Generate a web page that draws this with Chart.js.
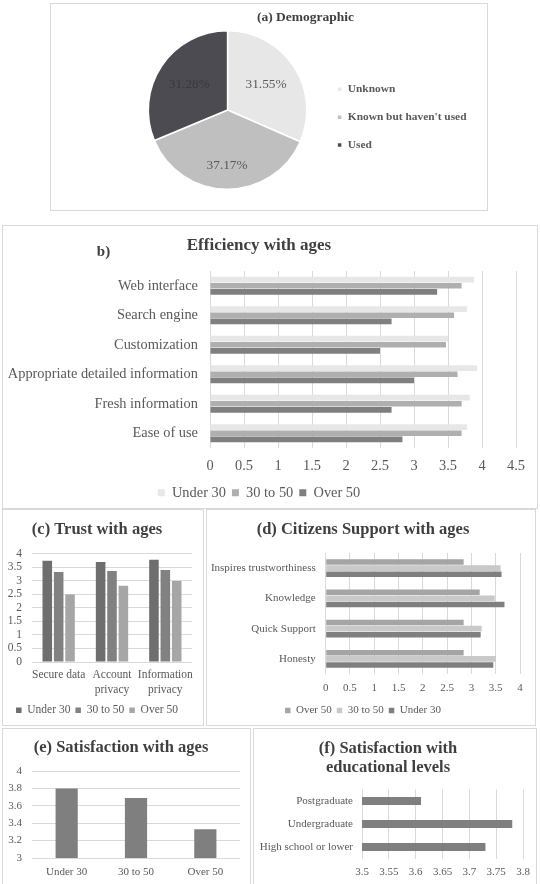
<!DOCTYPE html>
<html>
<head>
<meta charset="utf-8">
<script src="https://cdn.jsdelivr.net/npm/chart.js@4.4.0/dist/chart.umd.min.js"></script>
<style>
  html, body { margin: 0; padding: 0; background: #fff; }
  body { position: relative; width: 540px; height: 884px; overflow: hidden; }
  .panel { position: absolute; box-sizing: border-box; border: 1px solid #d9d9d9; }
  .cv { position: absolute; left: -1px; top: -1px; }
</style>
</head>
<body>
<div class="panel" style="left:50px;top:3px;width:438px;height:208px">
  <div class="cv" style="width:438px;height:208px"><canvas id="demoChart"></canvas></div>
</div>
<div class="panel" style="left:2px;top:225px;width:536px;height:284px">
  <div class="cv" style="width:536px;height:285px"><canvas id="effChart"></canvas></div>
</div>
<div class="panel" style="left:2px;top:509px;width:202px;height:217px">
  <div class="cv" style="width:202px;height:217px"><canvas id="trustChart"></canvas></div>
</div>
<div class="panel" style="left:206px;top:509px;width:330px;height:217px">
  <div class="cv" style="width:330px;height:217px"><canvas id="supportChart"></canvas></div>
</div>
<div class="panel" style="left:2px;top:728px;width:249px;height:160px">
  <div class="cv" style="width:249px;height:156px"><canvas id="satAgeChart"></canvas></div>
</div>
<div class="panel" style="left:253px;top:728px;width:284px;height:160px">
  <div class="cv" style="width:284px;height:156px"><canvas id="eduChart"></canvas></div>
</div>

<script>
// (a) demographic pie
const demoLabels = ["Unknown", "Known but haven't used", "Used"];
const demoValues = [31.55, 37.17, 31.28];

// (b) efficiency with ages
const effCategories = ["Web interface", "Search engine", "Customization", "Appropriate detailed information", "Fresh information", "Ease of use"];
const effUnder30 = [3.88, 3.78, 3.50, 3.93, 3.82, 3.78];
const eff30to50 = [3.70, 3.59, 3.47, 3.64, 3.70, 3.70];
const effOver50 = [3.34, 2.67, 2.50, 3.00, 2.67, 2.83];

// (c) trust with ages
const trustCategories = ["Secure data", ["Account", "privacy"], ["Information", "privacy"]];
const trustUnder30 = [3.74, 3.69, 3.78];
const trust30to50 = [3.32, 3.36, 3.40];
const trustOver50 = [2.49, 2.82, 2.99];

// (d) citizens support with ages
const supportCategories = ["Inspires trustworthiness", "Knowledge", "Quick Support", "Honesty"];
const supportOver50 = [2.84, 3.17, 2.84, 2.84];
const support30to50 = [3.60, 3.48, 3.21, 3.50];
const supportUnder30 = [3.62, 3.68, 3.19, 3.45];

// (e) satisfaction with ages
const satAgeLabels = ["Under 30", "30 to 50", "Over 50"];
const satAgeValues = [3.80, 3.69, 3.33];

// (f) satisfaction with educational levels
const eduLabels = ["Postgraduate", "Undergraduate", "High school or lower"];
const eduValues = [3.61, 3.78, 3.73];

// axis ranges
const effRange = [0, 4.5, 0.5];
const trustRange = [0, 4, 0.5];
const supportRange = [0, 4, 0.5];
const satAgeRange = [3, 4, 0.2];
const eduRange = [3.5, 3.8, 0.05];

Chart.defaults.font.family = '"Liberation Serif", "Times New Roman", serif';
Chart.defaults.color = "#595959";
Chart.defaults.animation = false;
Chart.defaults.plugins.tooltip.enabled = false;

const GRID = "#d9d9d9";
const TITLE = "#3f3f3f";
const fmt = (v) => String(Number(Number(v).toFixed(2)));

// percentage labels inside the pie slices
const sliceLabels = {
  id: "sliceLabels",
  afterDatasetsDraw(chart) {
    const ctx = chart.ctx;
    const colors = ["#595959", "#595959", "#38383d"];
    const reach = [0.58, 0.7, 0.58];
    ctx.save();
    ctx.font = '13.3px "Liberation Serif"';
    ctx.textAlign = "center";
    ctx.textBaseline = "middle";
    chart.getDatasetMeta(0).data.forEach((arc, i) => {
      const p = arc.getProps(["x", "y", "startAngle", "endAngle", "outerRadius"], true);
      const mid = (p.startAngle + p.endAngle) / 2;
      const r = p.outerRadius * reach[i];
      ctx.fillStyle = colors[i];
      ctx.fillText(demoValues[i].toFixed(2) + "%", p.x + Math.cos(mid) * r, p.y + Math.sin(mid) * r);
    });
    ctx.restore();
  },
};

// small "b)" tag next to the title
const panelTag = {
  id: "panelTag",
  afterDraw(chart, args, opts) {
    const ctx = chart.ctx;
    ctx.save();
    ctx.font = 'bold 15px "Liberation Serif"';
    ctx.fillStyle = TITLE;
    ctx.textAlign = "center";
    ctx.textBaseline = "middle";
    ctx.fillText(opts.text, opts.x, opts.y);
    ctx.restore();
  },
};

document.addEventListener("DOMContentLoaded", () => {
  new Chart(document.getElementById("demoChart"), {
    type: "pie",
    data: {
      labels: demoLabels,
      datasets: [
        {
          data: demoValues,
          backgroundColor: ["#e7e7e7", "#bfbfbf", "#4b4b51"],
          borderColor: "#ffffff",
          borderWidth: 1.5,
        },
      ],
    },
    options: {
      responsive: true,
      maintainAspectRatio: false,
      layout: { padding: { left: 84.5, right: 11.5, top: 0, bottom: 21 } },
      plugins: {
        title: {
          display: true,
          text: "(a) Demographic",
          color: TITLE,
          font: { size: 13.5, weight: "bold" },
          padding: { top: 6.9, bottom: 3.9 },
        },
        legend: {
          position: "right",
          fullSize: false,
          title: { display: true, text: "", padding: 0, font: { size: 12 } },
          labels: {
            boxWidth: 5,
            boxHeight: 5,
            padding: 16.5,
            color: "#595959",
            font: { size: 11.4, weight: "bold" },
          },
        },
      },
    },
    plugins: [sliceLabels],
  });

  new Chart(document.getElementById("effChart"), {
    type: "bar",
    data: {
      labels: effCategories,
      datasets: [
        { label: "Under 30", data: effUnder30, backgroundColor: "#e7e7e7" },
        { label: "30 to 50", data: eff30to50, backgroundColor: "#afafaf" },
        { label: "Over 50", data: effOver50, backgroundColor: "#7f7f7f" },
      ],
    },
    options: {
      indexAxis: "y",
      responsive: true,
      maintainAspectRatio: false,
      datasets: { bar: { categoryPercentage: 0.63, barPercentage: 0.92 } },
      layout: { padding: { left: 0, right: 22, top: 0, bottom: 0 } },
      scales: {
        x: {
          min: effRange[0],
          max: effRange[1],
          ticks: { stepSize: effRange[2], padding: 9.4, font: { size: 14.4 }, callback: fmt, autoSkip: false },
          grid: { color: GRID, drawTicks: false },
          border: { display: false },
          afterFit: (s) => { s.height = 31.6; },
        },
        y: {
          ticks: { padding: 12, font: { size: 14.4 }, autoSkip: false },
          grid: { display: false, drawTicks: false },
          border: { display: false },
          afterFit: (s) => { s.width = 208; },
        },
      },
      plugins: {
        title: {
          display: true,
          text: "Efficiency with ages",
          color: TITLE,
          font: { size: 17, weight: "bold" },
          padding: { top: 10.3, bottom: 15.3 },
        },
        legend: {
          position: "bottom",
          labels: { boxWidth: 7, boxHeight: 7, padding: 6, font: { size: 14.4 } },
        },
        panelTag: { text: "b)", x: 101.5, y: 27 },
      },
    },
    plugins: [panelTag],
  });

  new Chart(document.getElementById("trustChart"), {
    type: "bar",
    data: {
      labels: trustCategories,
      datasets: [
        { label: "Under 30", data: trustUnder30, backgroundColor: "#6e6e6e" },
        { label: "30 to 50", data: trust30to50, backgroundColor: "#818181" },
        { label: "Over 50", data: trustOver50, backgroundColor: "#a6a6a6" },
      ],
    },
    options: {
      responsive: true,
      maintainAspectRatio: false,
      datasets: { bar: { categoryPercentage: 0.64, barPercentage: 0.84 } },
      layout: { padding: { left: 0, right: 12, top: 0, bottom: 0 } },
      scales: {
        x: {
          ticks: { padding: 5.5, font: { size: 11.5, lineHeight: 1.3 }, maxRotation: 0, minRotation: 0, autoSkip: false },
          grid: { display: false, drawTicks: false },
          border: { display: false },
          afterFit: (s) => { s.height = 37.5; },
        },
        y: {
          min: trustRange[0],
          max: trustRange[1],
          ticks: { stepSize: trustRange[2], padding: 10, font: { size: 11.5 }, callback: fmt, autoSkip: false },
          grid: { color: GRID, drawTicks: false },
          border: { display: false },
          afterFit: (s) => { s.width = 30; },
        },
      },
      plugins: {
        title: {
          display: true,
          text: "(c) Trust with ages",
          color: TITLE,
          font: { size: 16.5, weight: "bold" },
          padding: { top: 11.1, bottom: 13.8 },
        },
        legend: {
          position: "bottom",
          labels: { boxWidth: 5.5, boxHeight: 5.5, padding: 5, font: { size: 11.5 } },
        },
      },
    },
  });

  new Chart(document.getElementById("supportChart"), {
    type: "bar",
    data: {
      labels: supportCategories,
      datasets: [
        { label: "Over 50", data: supportOver50, backgroundColor: "#a5a5a5" },
        { label: "30 to 50", data: support30to50, backgroundColor: "#c9c9c9" },
        { label: "Under 30", data: supportUnder30, backgroundColor: "#7f7f7f" },
      ],
    },
    options: {
      indexAxis: "y",
      responsive: true,
      maintainAspectRatio: false,
      datasets: { bar: { categoryPercentage: 0.6, barPercentage: 0.92 } },
      layout: { padding: { left: 0, right: 16, top: 0, bottom: 0 } },
      scales: {
        x: {
          min: supportRange[0],
          max: supportRange[1],
          ticks: { stepSize: supportRange[2], padding: 7.4, font: { size: 11 }, callback: fmt, autoSkip: false },
          grid: { color: GRID, drawTicks: false },
          border: { display: false },
          afterFit: (s) => { s.height = 26; },
        },
        y: {
          ticks: { padding: 10, font: { size: 11 }, autoSkip: false },
          grid: { display: false, drawTicks: false },
          border: { display: false },
          afterFit: (s) => { s.width = 119.7; },
        },
      },
      plugins: {
        title: {
          display: true,
          text: "(d) Citizens Support with ages",
          color: TITLE,
          font: { size: 16.5, weight: "bold" },
          padding: { top: 11.1, bottom: 13.1 },
        },
        legend: {
          position: "bottom",
          labels: { boxWidth: 5.5, boxHeight: 5.5, padding: 5, font: { size: 11 } },
        },
      },
    },
  });

  new Chart(document.getElementById("satAgeChart"), {
    type: "bar",
    data: {
      labels: satAgeLabels,
      datasets: [{ label: "Satisfaction", data: satAgeValues, backgroundColor: "#7f7f7f" }],
    },
    options: {
      responsive: true,
      maintainAspectRatio: false,
      datasets: { bar: { categoryPercentage: 0.5, barPercentage: 0.64 } },
      layout: { padding: { left: 0, right: 11, top: 0, bottom: 0 } },
      scales: {
        x: {
          ticks: { padding: 7.4, font: { size: 11 }, maxRotation: 0, autoSkip: false },
          grid: { display: false, drawTicks: false },
          border: { display: false },
          afterFit: (s) => { s.height = 26; },
        },
        y: {
          min: satAgeRange[0],
          max: satAgeRange[1],
          ticks: { stepSize: satAgeRange[2], padding: 10, font: { size: 11 }, callback: fmt, autoSkip: false },
          grid: { color: GRID, drawTicks: false },
          border: { display: false },
          afterFit: (s) => { s.width = 30; },
        },
      },
      plugins: {
        title: {
          display: true,
          text: "(e) Satisfaction with ages",
          color: TITLE,
          font: { size: 16.5, weight: "bold" },
          padding: { top: 10.1, bottom: 13.1 },
        },
        legend: { display: false },
      },
    },
  });

  new Chart(document.getElementById("eduChart"), {
    type: "bar",
    data: {
      labels: eduLabels,
      datasets: [{ label: "Satisfaction", data: eduValues, backgroundColor: "#7f7f7f" }],
    },
    options: {
      indexAxis: "y",
      responsive: true,
      maintainAspectRatio: false,
      datasets: { bar: { categoryPercentage: 0.5, barPercentage: 0.7 } },
      layout: { padding: { left: 0, right: 14, top: 0, bottom: 0 } },
      scales: {
        x: {
          min: eduRange[0],
          max: eduRange[1],
          ticks: { stepSize: eduRange[2], padding: 7, font: { size: 11 }, callback: fmt, autoSkip: false },
          grid: { color: GRID, drawTicks: false },
          border: { display: false },
          afterFit: (s) => { s.height = 25.5; },
        },
        y: {
          ticks: { padding: 9, font: { size: 11 }, autoSkip: false },
          grid: { display: false, drawTicks: false },
          border: { display: false },
          afterFit: (s) => { s.width = 109; },
        },
      },
      plugins: {
        title: {
          display: true,
          text: ["(f) Satisfaction with", "educational levels"],
          color: TITLE,
          font: { size: 16.5, weight: "bold", lineHeight: 1.15 },
          padding: { top: 11.5, bottom: 12 },
        },
        legend: { display: false },
      },
    },
  });
});
</script>
</body>
</html>
